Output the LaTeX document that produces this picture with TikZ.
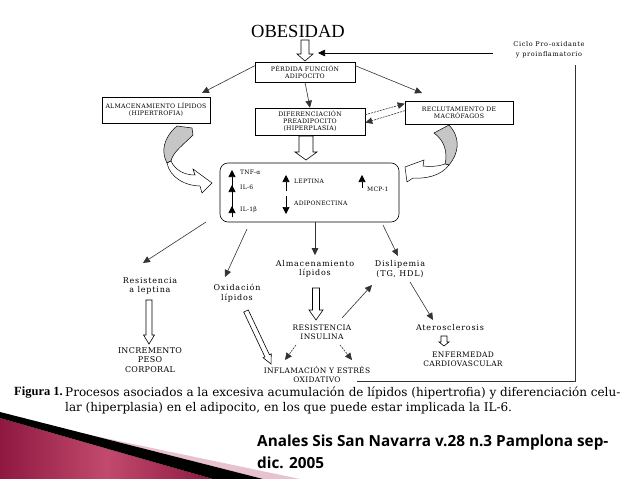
\documentclass[tikz,border=0pt]{standalone}
\usepackage{fontspec}
\setmainfont{DejaVu Serif}
\newfontfamily\obf{Liberation Serif}
\newfontfamily\dgf[LetterSpace=4]{DejaVu Serif}
\newfontfamily\dgl[LetterSpace=10]{DejaVu Serif}
\newfontfamily\ftf{Open Sans}
\usetikzlibrary{arrows.meta,calc}
\definecolor{maroonA}{HTML}{8E1840}
\definecolor{maroonB}{HTML}{C24A6E}
\definecolor{pinkL}{HTML}{E8C3CE}
\newcommand{\holarr}[7]{%
  \begin{scope}[shift={(#1,#2)}, rotate=#3]
    \draw[line width=0.6, fill=white] (0,-#5) -- ({#4-#7},-#5) -- ({#4-#7},-#6) -- (#4,0) -- ({#4-#7},#6) -- ({#4-#7},#5) -- (0,#5) -- cycle;
  \end{scope}}
\begin{document}
\begin{tikzpicture}[x=1pt,y=-1pt,
  box/.style={draw, line width=0.6, fill=white, inner sep=0, align=center, font=\dgf\fontsize{6.2}{7}\selectfont},
  lbl/.style={align=center, inner sep=0, font=\dgl\fontsize{8}{9.5}\selectfont},
  capl/.style={align=center, inner sep=0, font=\dgf\fontsize{7.5}{9}\selectfont},
  inl/.style={anchor=west, inner sep=0, font=\dgf\fontsize{6}{6.5}\selectfont},
  arr/.style={-{Triangle[length=7,width=6.5]}, line width=0.6, draw=black!80},
  dsh/.style={arr, dash pattern=on 2pt off 1pt}]
\fill[white] (0,0) rectangle (638,479);
\useasboundingbox (0,0) rectangle (638,479);

% footer decoration
\shade[left color=maroonA, right color=maroonA, middle color=maroonB] (0,418) -- (213,479) -- (0,479) -- cycle;
\fill[pinkL] (90,435) -- (300,479) -- (263,479) -- cycle;
\fill[black] (0,412) -- (263,479) -- (213,479) -- (0,418) -- cycle;

% title and top boxes
\node[font=\obf\fontsize{18.5}{20}\selectfont, inner sep=0] (obes) at (298,31) {OBESIDAD};
\node[box, minimum width=100, minimum height=20] (perd) at (305,72) {PÉRDIDA FUNCIÓN\\ADIPOCITO};
\node[box, minimum width=108, minimum height=26] (alm) at (156,110) {ALMACENAMIENTO LÍPIDOS\\(HIPERTROFIA)};
\node[box, minimum width=110, minimum height=27] (dif) at (310,121.5) {DIFERENCIACIÓN\\PREADIPOCITO\\(HIPERPLASIA)};
\node[box, minimum width=108, minimum height=23] (recl) at (459,112.5) {RECLUTAMIENTO DE\\MACRÓFAGOS};
\node[align=center, inner sep=0, font=\dgl\fontsize{6.5}{10}\selectfont] (ciclo) at (549,50) {Ciclo Pro-oxidante\\y proinflamatorio};

% central box
\node[draw, rounded corners=8, minimum width=179, minimum height=59, line width=0.6, inner sep=0] (cen) at (309.5,192.5) {};
\draw[-{Triangle[length=7,width=7]}, line width=0.7] (232,217) -- (232,170);
\draw[-{Triangle[length=7,width=7]}, line width=0.7] (232,217) -- (232,185);
\draw[-{Triangle[length=7,width=7]}, line width=0.7] (232,217) -- (232,206);
\node[inl] (tnf) at (240,172) {TNF-α};
\node[inl] (il6) at (240,187) {IL-6};
\node[inl] (il1) at (240,210) {IL-1β};
\draw[-{Triangle[length=7,width=7]}, line width=0.7] (286,191) -- (286,175);
\node[inl] (lep) at (294,181) {LEPTINA};
\draw[-{Triangle[length=7,width=7]}, line width=0.7] (286,196) -- (286,214);
\node[inl] (adi) at (294,203) {ADIPONECTINA};
\draw[-{Triangle[length=7,width=7]}, line width=0.7] (362,188) -- (362,175);
\node[inl] (mcp) at (367,189) {MCP-1};

% lower labels
\node[lbl] (resl) at (150,286) {Resistencia\\a leptina};
\node[capl, font=\dgf\fontsize{8}{9.5}\selectfont] (incr) at (150,360) {INCREMENTO\\PESO\\CORPORAL};
\node[lbl] (oxid) at (237,293) {Oxidación\\lípidos};
\node[lbl] (alml) at (315,269) {Almacenamiento\\lípidos};
\node[lbl] (dis) at (400,269) {Dislipemia\\(TG, HDL)};
\node[capl] (resi) at (322,332) {RESISTENCIA\\INSULINA};
\node[lbl] (ater) at (450,328) {Aterosclerosis};
\node[capl] (enf) at (463,359) {ENFERMEDAD\\CARDIOVASCULAR};
\node[capl] (infl) at (317,375) {INFLAMACIÓN Y ESTRÉS\\OXIDATIVO};

% hollow arrows
\holarr{305}{40}{-90}{21}{4}{8}{7}
\holarr{306}{136}{-90}{24}{7}{11}{8}
\holarr{149}{300}{-90}{44}{3}{5.5}{9}
\holarr{316}{288}{-90}{32}{3.5}{7}{10}
\holarr{444}{336}{-90}{10}{3}{5}{4}
\holarr{246}{311}{-64.7}{58.6}{2.5}{4.5}{9}

% curved arrows
\filldraw[fill=gray!45, draw=black, line width=0.5] (177,126) .. controls (163,138) and (161,152) .. (167,163) -- (171,161) .. controls (173,152) and (183,145) .. (193,135) -- (192,128) -- cycle;
\filldraw[fill=white, draw=black, line width=0.5] (167,163) .. controls (170,178) and (186,186) .. (200,186) -- (202,193) -- (212,183) -- (193,169) -- (195,175) .. controls (184,175) and (175,170) .. (171,161) -- cycle;
\filldraw[fill=gray!45, draw=black, line width=0.5] (434,133) -- (449,125) .. controls (461,138) and (459,153) .. (449,165) -- (445,164) .. controls (448,152) and (444,140) .. (434,133) -- cycle;
\filldraw[fill=white, draw=black, line width=0.5] (449,165) .. controls (441,176) and (425,179) .. (413,178) -- (407,182) -- (405,167) -- (424,160) -- (423,166) .. controls (432,167) and (440,166) .. (445,164) -- cycle;

% connectors
\coordinate (cyc) at (493,53);
\coordinate (cyctip) at (318,53);
\draw[arr, draw=black] (cyc) -- (cyctip);
\draw[line width=0.6, draw=black!80] (575,65) -- (575,381) -- (357,381);
\draw[arr] (perd.south) -- (dif.north);
\draw[arr] ([yshift=-4]perd.north west) -- (202,93);
\draw[arr] ([yshift=-4]perd.north east) -- (422,93);
\draw[dsh] ([yshift=-7]dif.north east) -- ([yshift=-3]recl.north west);
\draw[dsh] ([yshift=-10]recl.north west) -- ([yshift=-15]dif.north east);
\draw[arr] (206,222) -- (143,263);
\draw[arr] (247,229) -- (225,277);
\draw[arr] (cen.south -| alml.north) -- ([yshift=5]alml.north);
\draw[arr] (383,225) -- (398,256);
\draw[arr] (342,318) -- (372,285);
\draw[arr] (410,282) -- (433,320);
\draw[dsh] (296,345) -- (285,360);
\draw[dsh] (340,345) -- (352,360);

% caption
\node[anchor=west, inner sep=0, font=\obf\bfseries\fontsize{12.5}{14}\selectfont] (fig) at (14,393) {Figura 1.};
\node[anchor=west, inner sep=0, font=\fontsize{12}{14}\selectfont] (cap1) at (65,393) {Procesos asociados a la excesiva acumulación de lípidos (hipertrofia) y diferenciación celu-};
\node[anchor=west, inner sep=0, font=\fontsize{12}{14}\selectfont] (cap2) at (65,408) {lar (hiperplasia) en el adipocito, en los que puede estar implicada la IL-6.};

% footer text
\node[anchor=west, inner sep=0, font=\ftf\bfseries\fontsize{15.3}{17}\selectfont] (ft1) at (257,443) {Anales Sis San Navarra v.28 n.3 Pamplona sep-};
\node[anchor=west, inner sep=0, font=\ftf\bfseries\fontsize{15.3}{17}\selectfont] (ft2) at (257,463) {dic. 2005};
\end{tikzpicture}
\end{document}
